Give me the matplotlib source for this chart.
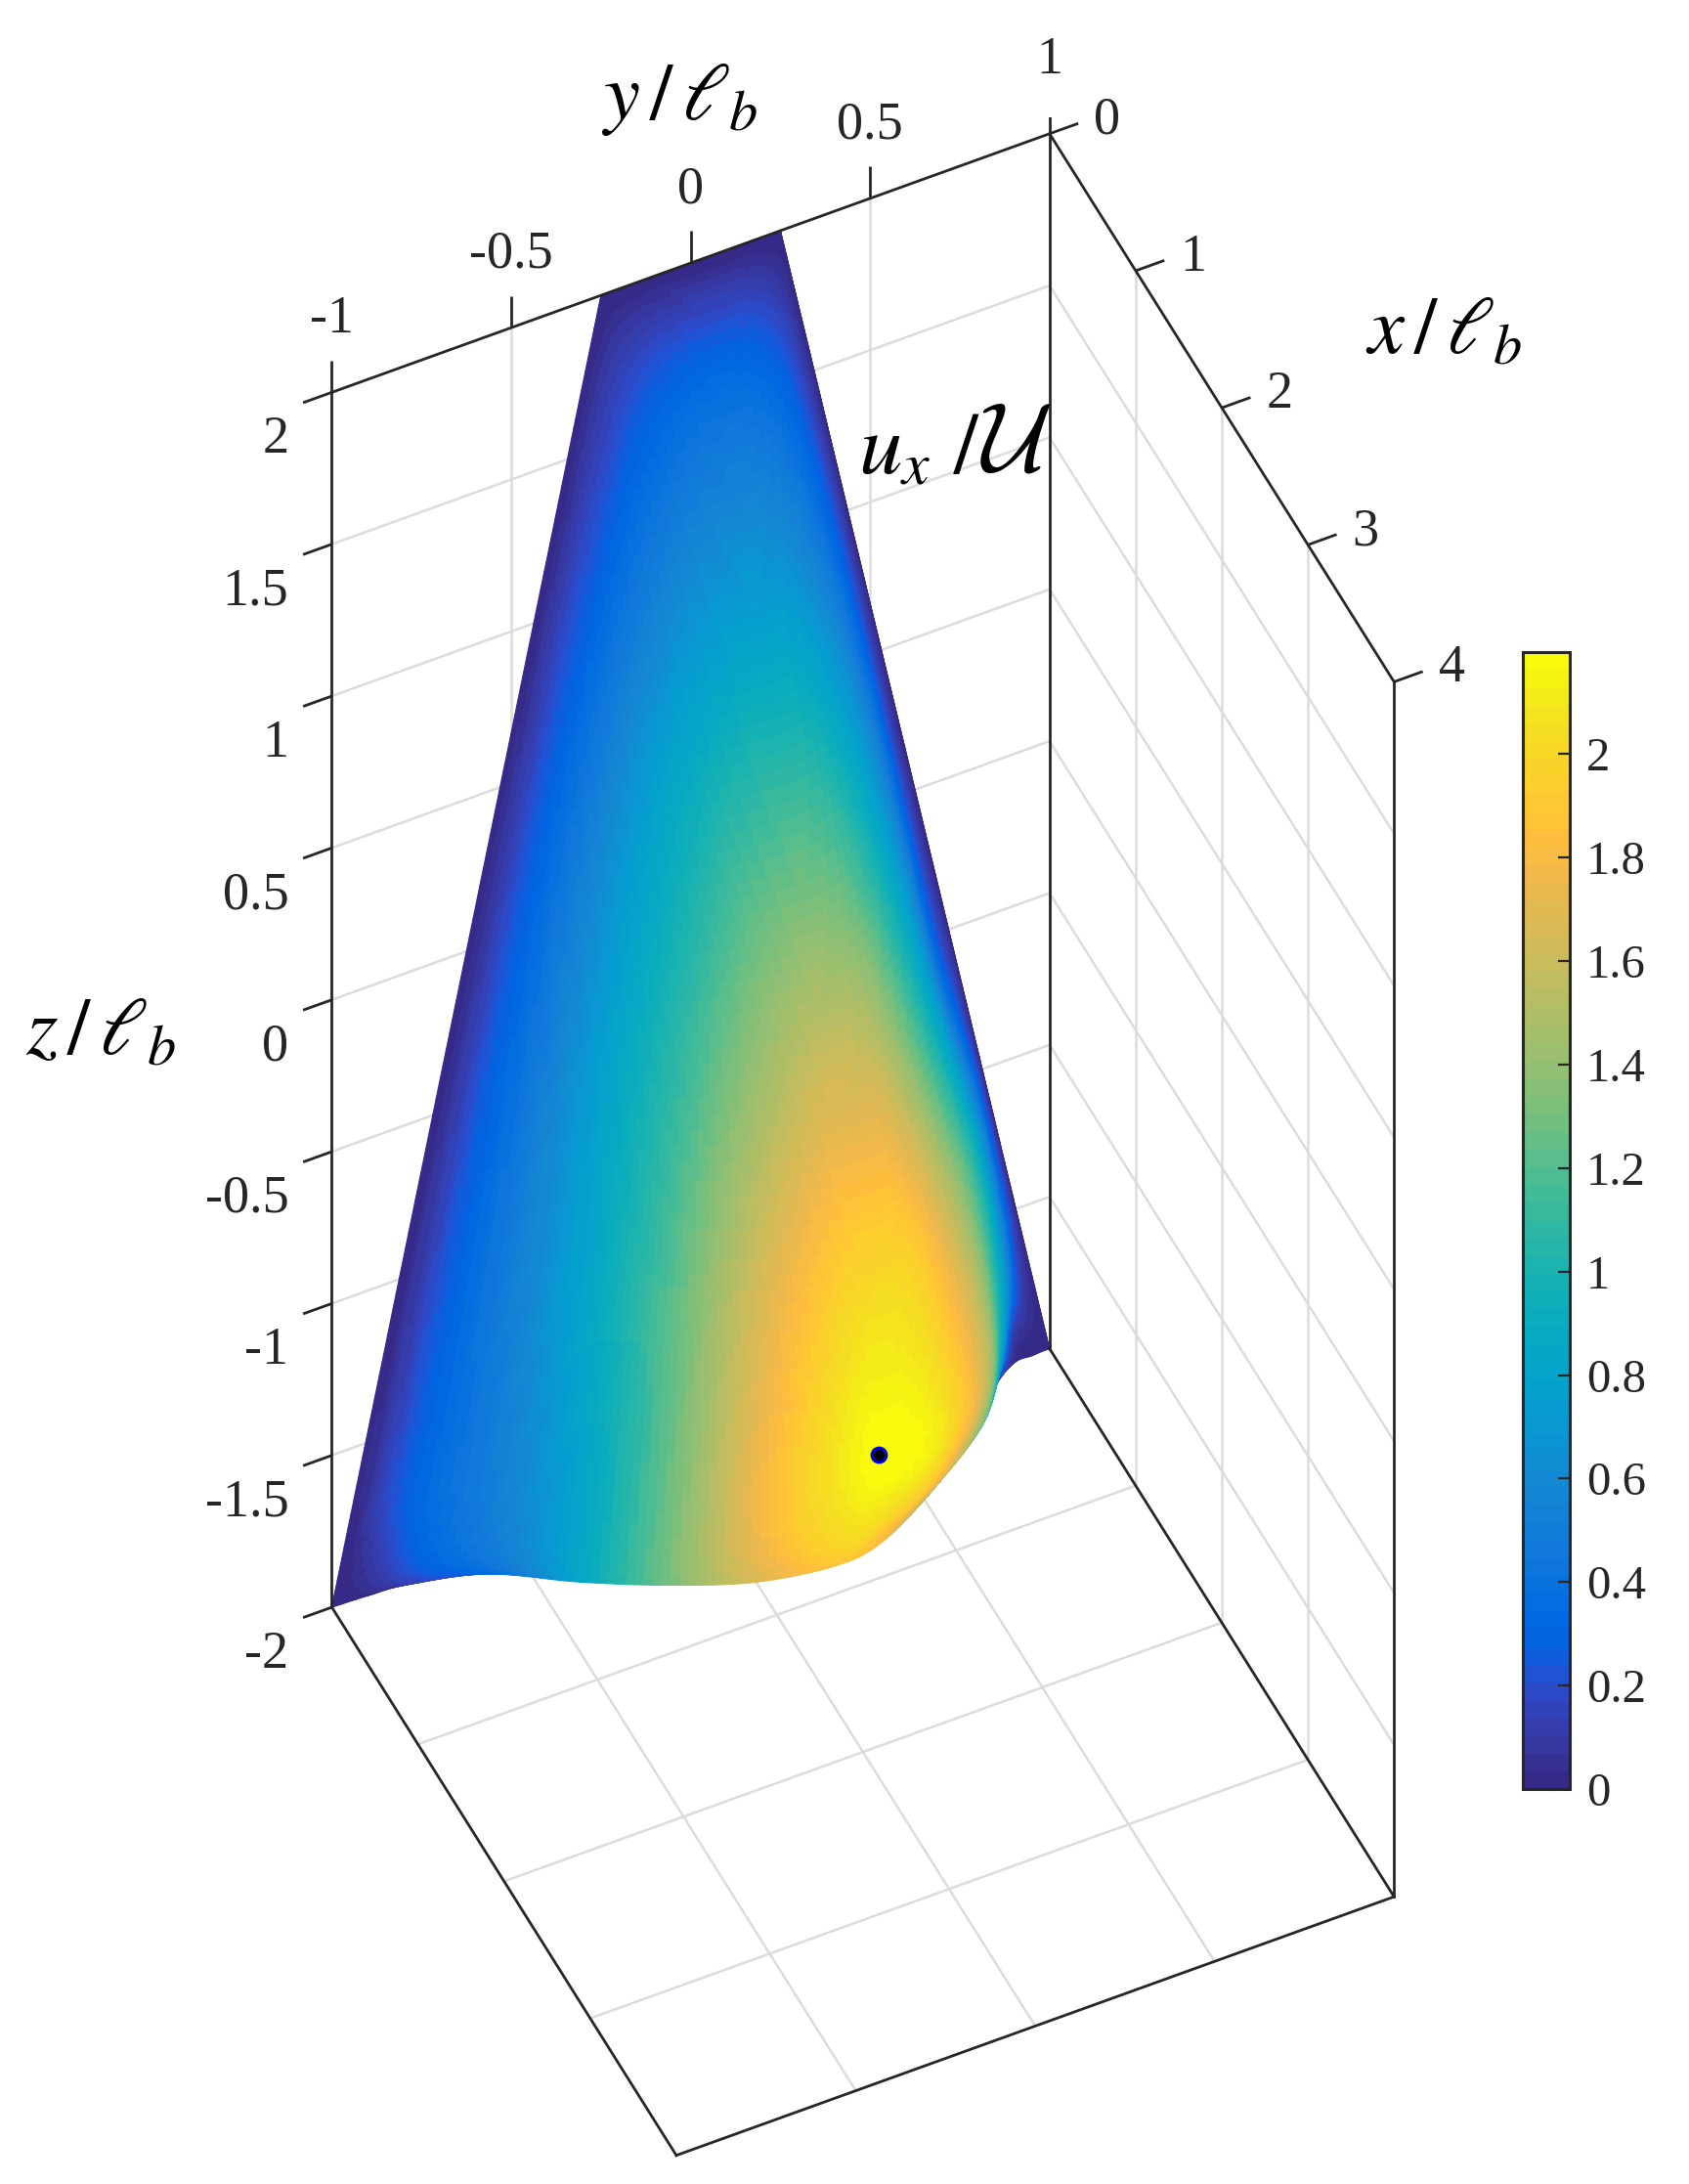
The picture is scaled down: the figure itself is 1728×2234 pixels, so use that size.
import numpy as np
import matplotlib
matplotlib.use('Agg')
import matplotlib.pyplot as plt
from matplotlib.colors import ListedColormap, Normalize
from matplotlib.cm import ScalarMappable
from mpl_toolkits.mplot3d import proj3d

plt.rcParams['font.family'] = ['Liberation Serif', 'DejaVu Serif']
plt.rcParams['mathtext.fontset'] = 'stix'

# ---------------- data ----------------
x_ticks = [0, 1, 2, 3, 4]
y_ticks = [-1, -0.5, 0, 0.5, 1]
z_ticks = [-2, -1.5, -1, -0.5, 0, 0.5, 1, 1.5, 2]
x_labels = ['0', '1', '2', '3', '4']
y_labels = ['-1', '-0.5', '0', '0.5', '1']
z_labels = ['-2', '-1.5', '-1', '-0.5', '0', '0.5', '1', '1.5', '2']
cbar_ticks = [0, 0.2, 0.4, 0.6, 0.8, 1, 1.2, 1.4, 1.6, 1.8, 2]
cbar_labels = ['0', '0.2', '0.4', '0.6', '0.8', '1', '1.2', '1.4', '1.6', '1.8', '2']
u_max = 2.197
u_to_x = 0.45            # surface height in x per unit of u_x
half_width_top = 0.25    # half width of the wedge at z = 2
half_width_bottom = 1.0  # half width of the wedge at z = -2

eta_levels = [-1, -.9, -.8, -.6, -.4, -.2, 0, .2, .33, .5, .7, .82, .9, .95, .98, 1]
z_levels = [2, 1.9, 1.75, 1.5, 1, .5, 0, -.5, -1, -1.4, -1.65, -1.85, -1.95, -2]
u_table = [
    [0, 0, 0, 0, 0, 0, 0, 0, 0, 0, 0, 0, 0, 0, 0, 0],
    [0, .04, .07, .10, .12, .13, .14, .14, .14, .13, .10, .07, .05, .03, .01, 0],
    [0, .07, .13, .20, .25, .28, .30, .30, .29, .27, .21, .15, .09, .05, .02, 0],
    [0, .09, .17, .29, .37, .43, .46, .47, .46, .42, .32, .22, .13, .07, .03, 0],
    [0, .13, .24, .42, .56, .67, .73, .75, .74, .68, .50, .34, .20, .10, .04, 0],
    [0, .16, .30, .53, .74, .91, 1.03, 1.08, 1.08, .98, .72, .47, .26, .12, .05, 0],
    [0, .18, .33, .60, .84, 1.05, 1.25, 1.37, 1.38, 1.28, .92, .60, .30, .14, .05, 0],
    [0, .20, .36, .64, .91, 1.17, 1.44, 1.64, 1.68, 1.60, 1.15, .75, .36, .17, .07, 0],
    [0, .22, .37, .64, .94, 1.27, 1.64, 1.90, 1.98, 1.92, 1.47, 1.05, .62, .30, .12, 0],
    [0, .24, .37, .60, .90, 1.30, 1.74, 2.06, 2.15, 2.05, 1.6, 1.05, .60, .28, .11, 0],
    [0, .25, .38, .58, .88, 1.32, 1.80, 2.10, 2.19, 2.08, 1.55, .90, .45, .18, .07, 0],
    [0, .15, .32, .54, .88, 1.34, 1.78, 2.03, 2.02, 1.81, 1.25, .62, .17, .07, .03, 0],
    [0, .08, .2, .45, .88, 1.34, 1.72, 1.93, 1.86, 1.54, .95, .37, .06, .02, .01, 0],
    [0, .02, .06, .3, .85, 1.32, 1.69, 1.85, 1.78, 1.40, .80, .25, .02, .01, 0, 0],
]
peak_eta = 0.31
peak_z = -1.60
peak_u = 2.19

parula = [
 (0.2081,0.1663,0.5292),(0.2116,0.1898,0.5777),(0.2123,0.2138,0.6270),(0.2081,0.2386,0.6771),
 (0.1959,0.2645,0.7279),(0.1707,0.2919,0.7792),(0.1253,0.3242,0.8303),(0.0591,0.3598,0.8683),
 (0.0117,0.3875,0.8820),(0.0060,0.4086,0.8828),(0.0165,0.4266,0.8786),(0.0329,0.4430,0.8720),
 (0.0498,0.4586,0.8641),(0.0629,0.4737,0.8554),(0.0723,0.4887,0.8467),(0.0779,0.5040,0.8384),
 (0.0793,0.5200,0.8312),(0.0749,0.5375,0.8263),(0.0641,0.5570,0.8240),(0.0488,0.5772,0.8228),
 (0.0343,0.5966,0.8199),(0.0265,0.6137,0.8135),(0.0239,0.6287,0.8038),(0.0231,0.6418,0.7913),
 (0.0228,0.6535,0.7768),(0.0267,0.6642,0.7607),(0.0384,0.6743,0.7436),(0.0590,0.6838,0.7254),
 (0.0843,0.6928,0.7062),(0.1133,0.7015,0.6859),(0.1453,0.7098,0.6646),(0.1801,0.7177,0.6424),
 (0.2178,0.7250,0.6193),(0.2586,0.7317,0.5954),(0.3022,0.7376,0.5712),(0.3482,0.7424,0.5473),
 (0.3953,0.7459,0.5244),(0.4420,0.7481,0.5033),(0.4871,0.7491,0.4840),(0.5300,0.7491,0.4661),
 (0.5709,0.7485,0.4494),(0.6099,0.7473,0.4337),(0.6473,0.7456,0.4188),(0.6834,0.7435,0.4044),
 (0.7184,0.7411,0.3905),(0.7525,0.7384,0.3768),(0.7858,0.7356,0.3633),(0.8185,0.7327,0.3498),
 (0.8507,0.7299,0.3360),(0.8824,0.7274,0.3217),(0.9139,0.7258,0.3063),(0.9450,0.7261,0.2886),
 (0.9739,0.7314,0.2666),(0.9938,0.7455,0.2403),(0.9990,0.7653,0.2164),(0.9955,0.7861,0.1967),
 (0.9880,0.8066,0.1794),(0.9789,0.8271,0.1633),(0.9697,0.8481,0.1475),(0.9626,0.8705,0.1309),
 (0.9589,0.8949,0.1132),(0.9598,0.9218,0.0948),(0.9661,0.9514,0.0755),(0.9763,0.9831,0.0538)]

# ---------------- style / layout ----------------
W, H = 1728, 2234
DPI = 100
DARK = '#262626'
GRID = '#dcdcdc'
box_corners = [  # (x, y, z) -> target pixel, used only to place the 3-D axes
    ((0, 1, 2), (1075, 137)), ((0, -1, 2), (342, 401)), ((4, 1, 2), (1427, 697)),
    ((0, -1, -2), (340, 1644)), ((0, 1, -2), (1071, 1377)),
    ((4, 1, -2), (1423, 1938)), ((4, -1, -2), (693, 2210))]


def refine(a, axis, n=10):
    """Smooth rendering refinement of a table along one axis (Catmull-Rom)."""
    a = np.moveaxis(np.asarray(a, float), axis, 0)
    m = a.shape[0]
    t = np.linspace(0, m - 1, (m - 1) * n + 1)
    i = np.clip(np.floor(t).astype(int), 0, m - 2)
    s = (t - i).reshape((-1,) + (1,) * (a.ndim - 1))
    p0, p1, p2, p3 = a[np.maximum(i - 1, 0)], a[i], a[i + 1], a[np.minimum(i + 2, m - 1)]
    out = 0.5 * (2 * p1 + (p2 - p0) * s + (2 * p0 - 5 * p1 + 4 * p2 - p3) * s**2
                 + (3 * p1 - p0 - 3 * p2 + p3) * s**3)
    return np.moveaxis(out, 0, axis)


fig = plt.figure(figsize=(W / DPI, H / DPI), dpi=DPI, facecolor='white')
ax = fig.add_axes([0, 0, 1, 1], projection='3d', proj_type='ortho',
                  computed_zorder=False)
ax.view_init(elev=49.2, azim=-25.45)
ax.set_box_aspect((819, 812, 1899), zoom=1)
ax.set_axis_off()
ax.set_autoscale_on(False)
ax.set_xticks([])
ax.set_yticks([])
ax.set_zticks([])

cmap = ListedColormap(parula)
norm = Normalize(0, u_max)

# Surface
u = refine(refine(np.array(u_table), 0), 1).clip(0)
eta = refine(eta_levels, 0)
zz = refine(z_levels, 0)
E, Z = np.meshgrid(eta, zz)
half = half_width_top + (2 - Z) / 4 * (half_width_bottom - half_width_top)
surf = ax.plot_surface(u * u_to_x, E * half, Z, facecolors=cmap(norm(u)), rstride=1,
                       cstride=1, shade=False, linewidth=0.8, antialiased=True, zorder=3)
surf.set_edgecolor(surf._facecolor3d)

xmin, xmax = x_ticks[0], x_ticks[-1]
ymin, ymax = y_ticks[0], y_ticks[-1]
zmin, zmax = z_ticks[0], z_ticks[-1]
grid_kw = dict(color=GRID, lw=1.8, zorder=1, solid_capstyle='butt')
box_kw = dict(color=DARK, lw=2.0, zorder=5, solid_capstyle='projecting')

# grid: wall x = 0
for v in y_ticks[1:-1]:
    ax.plot([xmin, xmin], [v, v], [zmin, zmax], **grid_kw)
for v in z_ticks[1:-1]:
    ax.plot([xmin, xmin], [ymin, ymax], [v, v], **grid_kw)
# grid: wall y = 1
for v in x_ticks[1:-1]:
    ax.plot([v, v], [ymax, ymax], [zmin, zmax], **grid_kw)
for v in z_ticks[1:-1]:
    ax.plot([xmin, xmax], [ymax, ymax], [v, v], **grid_kw)
# grid: floor
for v in y_ticks[1:-1]:
    ax.plot([xmin, xmax], [v, v], [zmin, zmin], **grid_kw)
for v in x_ticks[1:-1]:
    ax.plot([v, v], [ymin, ymax], [zmin, zmin], **grid_kw)

# box edges
for a, b in [((xmin, ymin, zmax), (xmin, ymax, zmax)), ((xmin, ymax, zmax), (xmax, ymax, zmax)),
             ((xmin, ymin, zmin), (xmin, ymin, zmax)), ((xmin, ymax, zmin), (xmin, ymax, zmax)),
             ((xmax, ymax, zmin), (xmax, ymax, zmax)), ((xmin, ymin, zmin), (xmax, ymin, zmin)),
             ((xmax, ymin, zmin), (xmax, ymax, zmin)), ((xmin, ymax, zmin), (xmax, ymax, zmin))]:
    ax.plot(*zip(a, b), **box_kw)

# ticks (labels are placed below, once the 3-D axes has its final position)
tick_kw = dict(color=DARK, lw=2.0, zorder=5, solid_capstyle='butt')
tick_texts = []
for v, s in zip(z_ticks, z_labels):
    ax.plot([xmin, xmin], [ymin, ymin - 0.08], [v, v], **tick_kw)
    tick_texts.append(((xmin, ymin - 0.12, v - 0.105), s, 'right'))
for v, s in zip(y_ticks, y_labels):
    ax.plot([xmin, xmin], [v, v], [zmax, zmax + 0.105], **tick_kw)
    tick_texts.append(((xmin, v, zmax + 0.24), s, 'center'))
for v, s in zip(x_ticks, x_labels):
    ax.plot([v, v], [ymax, ymax + 0.08], [zmax, zmax], **tick_kw)
    tick_texts.append(((v, ymax + 0.16, zmax - 0.025), s, 'center'))

# peak marker
peak_half = half_width_top + (2 - peak_z) / 4 * (half_width_bottom - half_width_top)
ax.plot([peak_u * u_to_x], [peak_eta * peak_half], [peak_z], 'o', ms=10.6, mfc='black',
        mec='#0000e6', mew=2.2, zorder=6)

ax.set_xlim(xmin, xmax, view_margin=0)
ax.set_ylim(ymin, ymax, view_margin=0)
ax.set_zlim(zmin, zmax, view_margin=0)


def to_pixels(points):
    M = ax.get_proj()
    out = []
    for c in points:
        px, py, _z = proj3d.proj_transform(*c, M)
        out.append(ax.transData.transform((px, py)))
    return np.array(out)


def measure():
    fig.canvas.draw()
    out = to_pixels([c for c, _ in box_corners])
    out[:, 1] = H - out[:, 1]
    return out


targets = np.array([t for _, t in box_corners], float)
size = 1728.0
left, bottom = 0.0, 0.0
ax.set_position([left / W, bottom / H, size / W, size / H])
for _ in range(3):
    m = measure()
    mc, tc = m.mean(0), targets.mean(0)
    f = ((m - mc) * (targets - tc)).sum() / ((m - mc) ** 2).sum()
    cx, cy = mc[0], H - mc[1]
    newsize = size * f
    left = tc[0] - (cx - left) * f
    bottom = (H - tc[1]) - (cy - bottom) * f
    size = newsize
    ax.set_position([left / W, bottom / H, size / W, size / H])

# tick labels at the projected positions of their 3-D anchors
fig.canvas.draw()
for (pt, s, ha) in tick_texts:
    px = to_pixels([pt])[0]
    fig.text(px[0] / W, px[1] / H, s, color=DARK, fontsize=39, ha=ha, va='center')

# axis labels
label_kw = dict(color='black', fontsize=60, ha='center', va='center')
fig.text(695 / W, 1 - 102 / H, r'$y\,/\,\ell_b$', **label_kw)
fig.text(103 / W, 1 - 1059 / H, r'$z\,/\,\ell_b$', **label_kw)
fig.text(1477 / W, 1 - 342 / H, r'$x\,/\,\ell_b$', **label_kw)
fig.text(1003 / W, 1 - 462 / H, r'$u_x\,\,/$', color='black', fontsize=64, ha='right', va='center')
fig.text(1003 / W, 1 - 458 / H, r'$\mathcal{U}$', color='black', fontsize=72, ha='left',
         va='center', math_fontfamily='cm')

# colour bar
cax = fig.add_axes([1558 / W, 1 - 1830 / H, 48 / W, (1830 - 667) / H])
cb = fig.colorbar(ScalarMappable(norm=norm, cmap=cmap), cax=cax, ticks=cbar_ticks)
cb.ax.set_yticklabels(cbar_labels)
cb.ax.tick_params(direction='in', length=9, width=1.6, color=DARK, labelsize=35,
                  labelcolor=DARK, pad=12)
cb.outline.set_edgecolor(DARK)
cb.outline.set_linewidth(2.2)

fig.savefig('out.png', dpi=DPI, facecolor='white')
